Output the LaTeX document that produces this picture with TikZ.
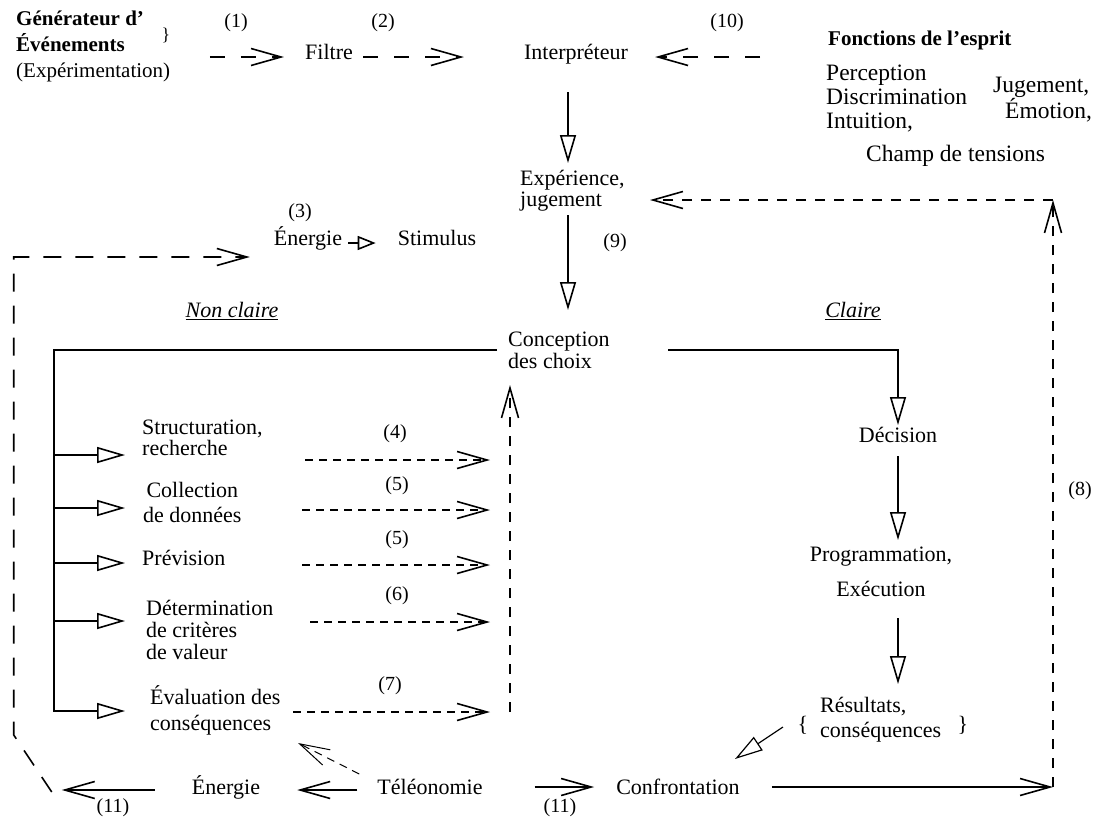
\documentclass[tikz,border=0pt]{standalone}
\usepackage{fontspec}
\setmainfont{Liberation Serif}
\usetikzlibrary{arrows.meta,calc,positioning}

\begin{document}
\begin{tikzpicture}[x=1pt,y=-1pt,
    txt/.style={anchor=mid,font=\fontsize{22}{22}\selectfont},
    num/.style={anchor=mid,font=\fontsize{20}{20}\selectfont},
    esp/.style={anchor=mid west,font=\fontsize{23.5}{23.5}\selectfont},
    trait/.style={line width=1.6pt},
    barb/.style={-{Straight Barb[length=30pt,width=17pt]}},
    tri/.style={-{Triangle[open,length=28pt,width=16pt]}},
    dlong/.style={dash pattern=on 15pt off 16pt},
    dloop/.style={dash pattern=on 18pt off 14pt},
    dmed/.style={dash pattern=on 10pt off 9pt},
    dshort/.style={dash pattern=on 8pt off 6pt}]
    \tikzstyle{every node}+=[inner sep=0pt]
    \useasboundingbox (0,0) rectangle (1109,823);

    % ligne du haut
    \node[txt,anchor=mid west,align=left,font=\fontsize{21}{26}\selectfont] (gen) at (16,75) {\textbf{Générateur d’}\\\textbf{Événements}\\(Expérimentation)};
    \node[txt,font=\fontsize{18}{18}\selectfont] (accol) at (166,38) {\}};
    \node[num] (n1) at (236,25) {(1)};
    \node[txt] (filtre) at (329,57) {Filtre};
    \node[num] (n2) at (383,25) {(2)};
    \node[txt] (interp) at (576,57) {Interpréteur};
    \node[num] (n10) at (727,25) {(10)};
    \draw[trait,dlong,barb] ($(filtre.mid west)+(-95,0)$) -- ($(filtre.mid west)+(-21,0)$);
    \draw[trait,dlong,barb] ($(filtre.mid east)+(10,0)$) -- ($(interp.mid west)+(-60,0)$);
    \draw[trait,dlong,barb] ($(interp.mid east)+(132,0)$) -- ($(interp.mid east)+(27,0)$);

    % fonctions de l'esprit
    \node[txt,anchor=mid west,font=\bfseries\fontsize{21}{21}\selectfont] (esprit) at (828,43) {Fonctions de l’esprit};
    \node[esp] (perc) at (826,78) {Perception};
    \node[esp] (discr) at (826,102) {Discrimination};
    \node[esp] (intu) at (826,126) {Intuition,};
    \node[esp] (jug) at (993,90) {Jugement,};
    \node[esp] (emo) at (1005,116) {Émotion,};
    \node[esp] (champ) at (866,159) {Champ de tensions};

    % colonne centrale
    \node[txt,anchor=mid west,align=left,font=\fontsize{22}{21}\selectfont] (exp) at (520,204) {Expérience,\\jugement};
    \node[num] (n9) at (615,245) {(9)};
    \node[txt,anchor=mid west,align=left,font=\fontsize{22}{22}\selectfont] (concep) at (508,366) {Conception\\des choix};
    \draw[trait,tri] ($(interp.mid)+(-8,35)$) -- ($(exp.mid west)+(48,-41)$);
    \draw[trait,tri] ($(exp.mid west)+(48,11)$) -- ($(concep.mid west)+(60,-56)$);

    % energie, stimulus
    \node[num] (n3) at (300,215) {(3)};
    \node[txt] (ener1) at (308,243) {Énergie};
    \node[txt] (stim) at (437,243) {Stimulus};
    \draw[trait,-{Triangle[open,length=18pt,width=14pt]}] ($(ener1.mid east)+(6,0)$) -- ($(stim.mid west)+(-22,0)$);

    \node[txt,font=\itshape\fontsize{22}{22}\selectfont] (nonclaire) at (232,315) {\underline{Non claire}};
    \node[txt,font=\itshape\fontsize{22}{22}\selectfont] (claire) at (853,315) {\underline{Claire}};

    % branche non claire
    \node[txt,anchor=mid west,align=left,font=\fontsize{22}{21}\selectfont] (struct) at (142,453) {Structuration,\\recherche};
    \node[txt,anchor=mid west,align=center,font=\fontsize{22}{25}\selectfont] (coll) at (143,520) {Collection\\de données};
    \node[txt,anchor=mid west] (prev) at (142,563) {Prévision};
    \node[txt,anchor=mid west,align=left,font=\fontsize{22}{22}\selectfont] (deter) at (146,657) {Détermination\\de critères\\de valeur};
    \node[txt,anchor=mid west,align=left,font=\fontsize{22}{26}\selectfont] (evalu) at (150,728) {Évaluation des\\conséquences};
    \node[num] (n4) at (395,436) {(4)};
    \node[num] (n5a) at (397,488) {(5)};
    \node[num] (n5b) at (397,542) {(5)};
    \node[num] (n6) at (397,598) {(6)};
    \node[num] (n7) at (390,688) {(7)};

    \coordinate (tronc) at (54,712);
    \coordinate (collbas) at (510,712);
    \draw[trait] ($(concep.mid west)+(-11,-16)$) -| (tronc);
    \foreach \n/\dy in {struct/2,coll/-12,prev/0,deter/-36,evalu/-17}{
        \path ($(\n.mid west)+(0,\dy)$) coordinate (tmp);
        \draw[trait,tri] (tronc |- tmp) -- ++(71,0);
    }
    \foreach \n/\dx/\dy in {struct/163/7,coll/159/-10,prev/160/2,deter/164/-35,evalu/143/-16}{
        \path ($(\n.mid west)+(\dx,\dy)$) coordinate (tmp);
        \draw[trait,dshort,barb] (tmp) -- ($(collbas |- tmp)+(-20,0)$);
    }
    \draw[trait,dmed,barb] (collbas) -- ($(concep.mid west)+(2,19)$);

    % branche claire
    \node[txt] (decis) at (898,440) {Décision};
    \node[txt,align=center,font=\fontsize{22}{35}\selectfont] (prog) at (881,594) {Programmation,\\Exécution};
    \node[txt,anchor=mid west,align=left,font=\fontsize{22}{25}\selectfont] (result) at (820,735) {Résultats,\\conséquences};
    \node[txt] (acg) at (803,729) {\{};
    \node[txt] (acd) at (963,729) {\}};
    \draw[trait,tri] ($(concep.mid west)+(160,-16)$) -| ($(decis.mid)+(0,-15)$);
    \draw[trait,tri] ($(decis.mid)+(0,16)$) -- ($(decis.mid |- prog.mid)+(0,-54)$);
    \draw[trait,tri] ($(decis.mid |- prog.mid)+(0,24)$) -- ($(decis.mid |- result.mid)+(0,-51)$);

    % ligne du bas
    \node[txt] (ener2) at (226,792) {Énergie};
    \node[txt] (tele) at (430,792) {Téléonomie};
    \node[txt] (conf) at (678,792) {Confrontation};
    \node[num] (n11a) at (113,810) {(11)};
    \node[num] (n11b) at (560,810) {(11)};
    \node[num] (n8) at (1080,493) {(8)};
    \coordinate (coin8) at (1053,787);
    \coordinate (coin8h) at (1053,200);

    \draw[trait,barb] ($(ener2.mid west)+(-37,-2)$) -- ($(ener2.mid west)+(-130,-2)$);
    \draw[trait,barb] ($(tele.mid west)+(-20,-2)$) -- ($(ener2.mid east)+(37,-2)$);
    \draw[trait,barb] ($(tele.mid east)+(52,-5)$) -- ($(conf.mid west)+(-22,-5)$);
    \draw[trait,barb] ($(conf.mid east)+(32,-5)$) -- (coin8);
    \draw[trait,dmed,barb] (coin8) -- (coin8h);
    \draw[trait,dmed,barb] (coin8h) -- ($(exp.mid west)+(130,-4)$);
    \draw[line width=1pt,dshort,barb] ($(tele.mid west)+(-18,-18)$) -- ($(evalu.mid west)+(148,15)$);
    \draw[line width=1.2pt,tri] ($(result.mid west)+(-37,-8)$) -- ($(conf.mid)+(57,-33)$);
    \draw[trait,dloop,barb] ($(ener2.mid west)+(-140,0)$) -- ++(-38,-57) |- ($(ener1.mid west)+(-24,14)$);
\end{tikzpicture}
\end{document}
